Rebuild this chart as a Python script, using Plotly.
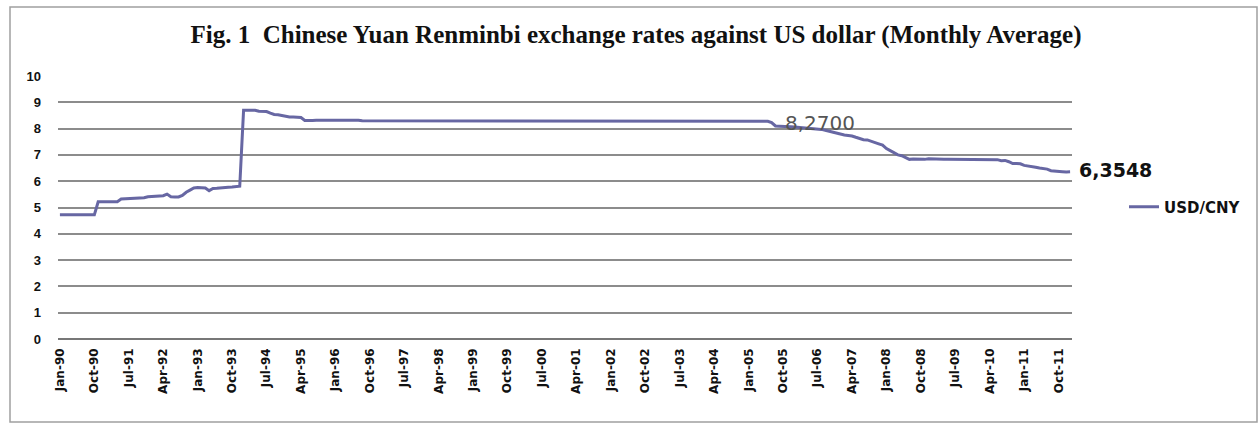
import plotly.graph_objects as go

# ---------------- data ----------------
month_names = ["Jan", "Feb", "Mar", "Apr", "May", "Jun",
               "Jul", "Aug", "Sep", "Oct", "Nov", "Dec"]
years = list(range(1990, 2013))

# monthly average USD/CNY, one row per year
usd_cny = [
    # 1990
    4.72, 4.72, 4.72, 4.72, 4.72, 4.72, 4.72, 4.72, 4.72, 4.72, 5.22, 5.22,
    # 1991
    5.22, 5.22, 5.22, 5.22, 5.32, 5.33, 5.35, 5.35, 5.36, 5.36, 5.37, 5.41,
    # 1992
    5.42, 5.42, 5.43, 5.45, 5.51, 5.41, 5.40, 5.40, 5.46, 5.58, 5.66, 5.74,
    # 1993
    5.76, 5.76, 5.74, 5.64, 5.72, 5.73, 5.75, 5.76, 5.77, 5.78, 5.80, 5.81,
    # 1994
    8.70, 8.70, 8.72, 8.70, 8.66, 8.66, 8.65, 8.59, 8.54, 8.53, 8.50, 8.45,
    # 1995
    8.44, 8.44, 8.42, 8.42, 8.31, 8.30, 8.31, 8.32, 8.32, 8.31, 8.31, 8.32,
    # 1996
    8.32, 8.32, 8.33, 8.33, 8.33, 8.32, 8.32, 8.30, 8.30, 8.30, 8.30, 8.30,
    # 1997
    8.30, 8.30, 8.29, 8.29, 8.29, 8.29, 8.29, 8.29, 8.28, 8.28, 8.28, 8.28,
    # 1998
    8.28, 8.28, 8.28, 8.28, 8.28, 8.28, 8.28, 8.28, 8.28, 8.28, 8.28, 8.28,
    # 1999
    8.28, 8.28, 8.28, 8.28, 8.28, 8.28, 8.28, 8.28, 8.28, 8.28, 8.28, 8.28,
    # 2000
    8.28, 8.28, 8.28, 8.28, 8.28, 8.28, 8.28, 8.28, 8.28, 8.28, 8.28, 8.28,
    # 2001
    8.28, 8.28, 8.28, 8.28, 8.28, 8.28, 8.28, 8.28, 8.28, 8.28, 8.28, 8.28,
    # 2002
    8.28, 8.28, 8.28, 8.28, 8.28, 8.28, 8.28, 8.28, 8.28, 8.28, 8.28, 8.28,
    # 2003
    8.28, 8.28, 8.28, 8.28, 8.28, 8.28, 8.28, 8.28, 8.28, 8.28, 8.28, 8.28,
    # 2004
    8.28, 8.28, 8.28, 8.28, 8.28, 8.28, 8.28, 8.28, 8.28, 8.28, 8.28, 8.28,
    # 2005
    8.28, 8.28, 8.28, 8.28, 8.28, 8.28, 8.23, 8.10, 8.09, 8.09, 8.08, 8.07,
    # 2006
    8.06, 8.05, 8.03, 8.02, 8.02, 8.00, 7.99, 7.97, 7.94, 7.90, 7.86, 7.82,
    # 2007
    7.79, 7.76, 7.74, 7.72, 7.67, 7.63, 7.58, 7.57, 7.52, 7.50, 7.42, 7.37,
    # 2008
    7.24, 7.16, 7.07, 7.00, 6.97, 6.89, 6.83, 6.84, 6.83, 6.84, 6.83, 6.85,
    # 2009
    6.84, 6.84, 6.84, 6.83, 6.83, 6.83, 6.83, 6.83, 6.83, 6.83, 6.83, 6.83,
    # 2010
    6.83, 6.83, 6.83, 6.83, 6.83, 6.82, 6.78, 6.79, 6.74, 6.67, 6.67, 6.66,
    # 2011
    6.60, 6.58, 6.57, 6.53, 6.50, 6.47, 6.46, 6.40, 6.38, 6.36, 6.36, 6.35,
    # 2012
    6.3548,
]

tick_labels = ["Jan-90", "Oct-90", "Jul-91", "Apr-92", "Jan-93", "Oct-93",
               "Jul-94", "Apr-95", "Jan-96", "Oct-96", "Jul-97", "Apr-98",
               "Jan-99", "Oct-99", "Jul-00", "Apr-01", "Jan-02", "Oct-02",
               "Jul-03", "Apr-04", "Jan-05", "Oct-05", "Jul-06", "Apr-07",
               "Jan-08", "Oct-08", "Jul-09", "Apr-10", "Jan-11", "Oct-11"]
y_ticks = [0, 1, 2, 3, 4, 5, 6, 7, 8, 9, 10]

label_peg = "8,2700"
label_peg_at = ("Aug-06", 8.21)
label_last = "6,3548"

# month category labels Jan-90 ... Jan-12
months = [f"{m}-{y % 100:02d}" for y in years for m in month_names][:len(usd_cny)]

# ---------------- figure ----------------
W, H = 1259, 426
L, R, T, B = 58, 187, 76, 87
pw, ph = W - L - R, H - T - B

line_color = "#6767a3"

fig = go.Figure()
fig.add_trace(go.Scatter(
    x=months, y=usd_cny, mode="lines", name="USD/CNY",
    line=dict(color=line_color, width=3),
))

fig.add_annotation(x=label_peg_at[0], y=label_peg_at[1], text=label_peg,
                   showarrow=False, xanchor="center", yanchor="middle",
                   xshift=-1,
                   font=dict(family="DejaVu Sans", size=20, color="#555555"))
fig.add_annotation(x=months[-1], y=usd_cny[-1], text=label_last,
                   showarrow=False, xanchor="left", yanchor="middle",
                   xshift=7, yshift=2,
                   font=dict(family="DejaVu Sans", size=19, color="#111111",
                             weight="bold"))

# outer frame
def px_x(p):
    return (p - L) / pw

def px_y(p):
    return (H - B - p) / ph

fig.add_shape(type="rect", xref="paper", yref="paper",
              x0=px_x(10), x1=px_x(1257), y0=px_y(422), y1=px_y(7),
              line=dict(color="#a0a0a0", width=1.5), layer="below")

fig.update_layout(
    width=W, height=H,
    margin=dict(l=L, r=R, t=T, b=B),
    paper_bgcolor="white", plot_bgcolor="white",
    title=dict(
        text="Fig. 1  Chinese Yuan Renminbi exchange rates against US dollar (Monthly Average)",
        font=dict(family="Liberation Serif", size=25, color="#111111", weight="bold"),
        x=(636) / W, xanchor="center", y=1 - 34 / H, yanchor="middle",
    ),
    showlegend=True,
    legend=dict(x=px_x(1124), xanchor="left", y=px_y(207), yanchor="middle",
                bgcolor="rgba(0,0,0,0)",
                font=dict(family="DejaVu Sans", size=15, color="#111111",
                          weight="bold")),
    xaxis=dict(
        type="category", range=[-0.5, len(usd_cny) - 0.5],
        tickmode="array", tickvals=tick_labels, ticktext=tick_labels,
        tickangle=-90, showgrid=False, showline=False, zeroline=False,
        ticks="", ticklabelstandoff=6,
        tickfont=dict(family="DejaVu Sans", size=12, color="#111111", weight="bold"),
    ),
    yaxis=dict(
        range=[0, 10], tickmode="array", tickvals=y_ticks,
        showgrid=True, gridcolor="#8c8c8c", gridwidth=1.5,
        zeroline=True, zerolinecolor="#777777", zerolinewidth=2,
        showline=False, ticks="", ticklabelstandoff=16,
        tickfont=dict(family="Liberation Sans", size=13, color="#111111", weight="bold"),
    ),
)

# remove the default page margin so the figure sits at the window's top-left
fig.write_html("out.html", config={"displayModeBar": False},
               post_script="document.body.style.margin='0';")
